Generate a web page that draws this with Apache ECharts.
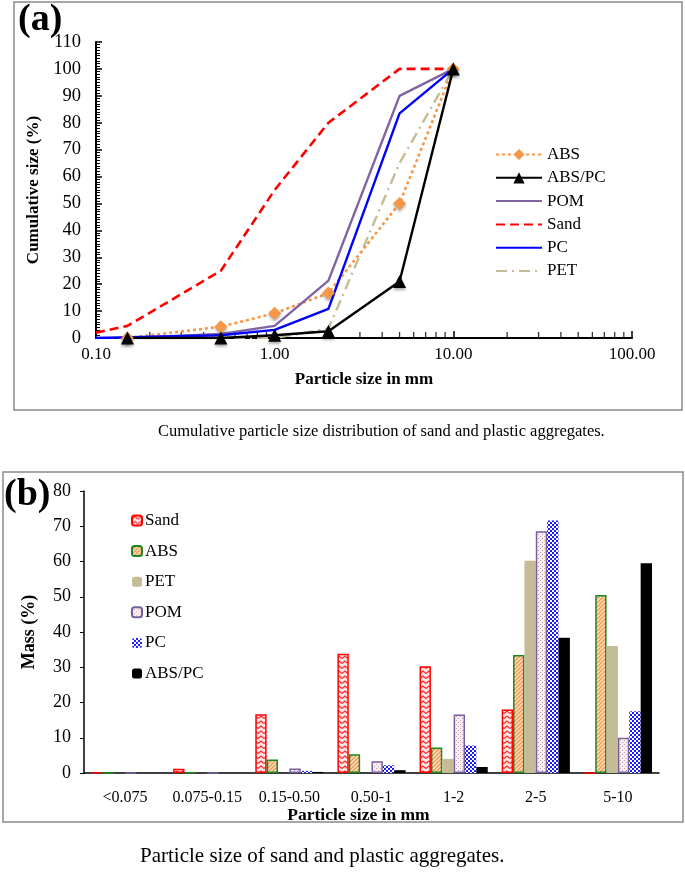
<!DOCTYPE html>
<html>
<head>
<meta charset="utf-8">
<script src="https://cdn.jsdelivr.net/npm/echarts@6/dist/echarts.min.js"></script>
<style>
html,body{margin:0;padding:0;background:#fff;}
#chart{width:685px;height:875px;}
</style>
</head>
<body>
<div id="chart"></div>
<script>
// ---------- Panel (a): cumulative distribution (x = particle size mm, y = %) ----------
const sandCum  = [[0.1,2],[0.15,4.5],[0.5,25],[1,55],[2,80],[5,100],[10,100]];
const absCum   = [[0.15,0],[0.5,4.2],[1,9.2],[2,16.7],[5,50],[10,100]];
const abspcCum = [[0.15,0],[0.5,0],[1,1],[2,2.5],[5,21],[10,100]];
const pomCum   = [[0.15,0],[0.5,1.5],[1,4.5],[2,21.3],[5,90],[10,100]];
const pcCum    = [[0.1,0],[0.5,1],[1,3],[2,10.8],[5,83.5],[10,100]];
const petCum   = [[0.1,0],[0.5,0],[1,0],[2,3.5],[5,65],[10,100]];
const minorTickValues = [0.2,0.3,0.4,0.5,0.6,0.7,0.8,0.9,2,3,4,5,6,7,8,9,20,30,40,50,60,70,80,90];

// ---------- Panel (b): mass % per size class ----------
const sizeClasses = ['<0.075','0.075-0.15','0.15-0.50','0.50-1','1-2','2-5','5-10'];
const sandMass  = [0.2, 1.2, 16.7, 33.8, 30.3, 18.0, 0];
const absMass   = [0, 0.2, 3.8, 5.3, 7.2, 33.5, 50.5];
const petMass   = [0, 0, 0, 0, 4.0, 60.2, 36.0];
const pomMass   = [0, 0, 1.3, 3.3, 16.6, 68.6, 10.0];
const pcMass    = [0, 0, 0.6, 2.2, 7.8, 71.6, 17.5];
const abspcMass = [0, 0, 0.3, 0.8, 1.7, 38.4, 59.5];

const SERIF = '"Liberation Serif","Times New Roman",serif';

function makePattern(w, h, draw) {
  const c = document.createElement('canvas');
  c.width = w; c.height = h;
  draw(c.getContext('2d'), w, h);
  return {image: c, repeat: 'repeat'};
}
const sandPat = makePattern(6, 5, (ctx, w, h) => {
  ctx.fillStyle = '#ffe6e6'; ctx.fillRect(0, 0, w, h);
  ctx.strokeStyle = '#ff2a2a'; ctx.lineWidth = 1.3;
  ctx.beginPath(); ctx.moveTo(0, 3.5); ctx.lineTo(3, 1); ctx.lineTo(6, 3.5); ctx.stroke();
});
const absPat = makePattern(4, 4, (ctx, w, h) => {
  ctx.fillStyle = '#fde3cf'; ctx.fillRect(0, 0, w, h);
  ctx.strokeStyle = '#f5944a'; ctx.lineWidth = 1.3;
  ctx.beginPath(); ctx.moveTo(-1, 5); ctx.lineTo(5, -1); ctx.stroke();
  ctx.beginPath(); ctx.moveTo(-1, 1); ctx.lineTo(1, -1); ctx.stroke();
  ctx.beginPath(); ctx.moveTo(3, 5); ctx.lineTo(5, 3); ctx.stroke();
});
const pomPat = makePattern(4, 4, (ctx, w, h) => {
  ctx.fillStyle = '#fbf2f2'; ctx.fillRect(0, 0, w, h);
  ctx.fillStyle = '#d99a9a'; ctx.fillRect(0, 0, 1, 1);
  ctx.fillStyle = '#b08cc0'; ctx.fillRect(2, 2, 1, 1);
});
const pcPat = makePattern(4, 4, (ctx, w, h) => {
  ctx.fillStyle = '#ffffff'; ctx.fillRect(0, 0, w, h);
  ctx.fillStyle = '#1a1aff'; ctx.fillRect(0, 0, 2, 2); ctx.fillRect(2, 2, 2, 2);
});

const markerShadow = {shadowBlur: 3, shadowColor: 'rgba(0,0,0,0.35)', shadowOffsetY: 2};
const noSymbol = {itemStyle: {opacity: 0}};

const chart = echarts.init(document.getElementById('chart'), null, {renderer: 'canvas'});
const option = {
  animation: false,
  backgroundColor: '#ffffff',
  textStyle: {fontFamily: SERIF, color: '#000'},
  graphic: [
    {type: 'rect', shape: {x: 14, y: 2, width: 668, height: 408}, style: {fill: 'none', stroke: '#8a8a8a', lineWidth: 1.5}, silent: true},
    {type: 'rect', shape: {x: 3, y: 472, width: 680, height: 350}, style: {fill: 'none', stroke: '#8a8a8a', lineWidth: 1.5}, silent: true},
    {type: 'text', left: 18, top: 1, style: {text: '(a)', font: 'bold 38px ' + SERIF, fill: '#000'}},
    {type: 'text', left: 4, top: 476, style: {text: '(b)', font: 'bold 38px ' + SERIF, fill: '#000'}},
    {type: 'text', left: 158, top: 423, style: {text: 'Cumulative particle size distribution of sand and plastic aggregates.', font: '16.5px ' + SERIF, fill: '#000'}},
    {type: 'text', left: 140, top: 846, style: {text: 'Particle size of sand and plastic aggregates.', font: '21px ' + SERIF, fill: '#000'}}
  ],
  legend: [
    {
      orient: 'vertical', left: 495, top: 146, padding: 0, itemWidth: 46, itemHeight: 14, itemGap: 6.3,
      textStyle: {fontFamily: SERIF, fontSize: 17, color: '#000', lineHeight: 17},
      data: [
        {name: 'ABS'}, {name: 'ABS/PC'},
        Object.assign({name: 'POM'}, noSymbol), Object.assign({name: 'Sand'}, noSymbol),
        Object.assign({name: 'PC'}, noSymbol), Object.assign({name: 'PET'}, noSymbol)
      ],
      selectedMode: false
    },
    {
      orient: 'vertical', left: 131, top: 512, padding: 0, itemWidth: 10, itemHeight: 10, itemGap: 13.6,
      textStyle: {fontFamily: SERIF, fontSize: 17, color: '#000', lineHeight: 17, padding: [0, 0, 0, -2]},
      data: ['Sand ', 'ABS ', 'PET ', 'POM ', 'PC ', 'ABS/PC '],
      formatter: n => n.trim(),
      selectedMode: false
    }
  ],
  grid: [
    {left: 96, top: 42, width: 536, height: 296},
    {left: 84, top: 491, width: 575, height: 282}
  ],
  xAxis: [
    {
      type: 'log', gridIndex: 0, logBase: 10, min: 0.1, max: 100,
      axisLine: {lineStyle: {color: '#000', width: 2}},
      axisTick: {inside: true, length: 7, lineStyle: {color: '#000', width: 1.5}},
      axisLabel: {fontFamily: SERIF, fontSize: 17, color: '#000', margin: 8, formatter: v => Number(v).toFixed(2)},
      splitLine: {show: false},
      name: 'Particle size in mm', nameLocation: 'middle', nameGap: 33,
      nameTextStyle: {fontFamily: SERIF, fontSize: 17, fontWeight: 'bold', color: '#000'}
    },
    {
      type: 'category', gridIndex: 1, data: sizeClasses,
      axisLine: {lineStyle: {color: '#000', width: 1.5}},
      axisTick: {show: false},
      axisLabel: {fontFamily: SERIF, fontSize: 16, color: '#000', margin: 17, interval: 0},
      name: 'Particle size in mm', nameLocation: 'middle', nameGap: 31,
      nameTextStyle: {fontFamily: SERIF, fontSize: 17.5, fontWeight: 'bold', color: '#000', padding: [0, 26, 0, 0]}
    }
  ],
  yAxis: [
    {
      type: 'value', gridIndex: 0, min: 0, max: 110, interval: 10,
      axisLine: {show: true, lineStyle: {color: '#000', width: 2}},
      axisTick: {show: true, inside: true, length: 6, lineStyle: {color: '#000', width: 1.5}},
      minorTick: {show: true, splitNumber: 10, length: 4, lineStyle: {color: '#000', width: 1}},
      axisLabel: {fontFamily: SERIF, fontSize: 18.5, color: '#000', margin: 15},
      splitLine: {show: false},
      name: 'Cumulative size (%)', nameLocation: 'middle', nameGap: 51,
      nameTextStyle: {fontFamily: SERIF, fontSize: 17, fontWeight: 'bold', color: '#000'}
    },
    {
      type: 'value', gridIndex: 1, min: 0, max: 80, interval: 10,
      axisLine: {show: true, lineStyle: {color: '#000', width: 1.5}},
      axisTick: {show: true, length: 4, lineStyle: {color: '#000'}},
      axisLabel: {fontFamily: SERIF, fontSize: 18, color: '#000', margin: 13},
      splitLine: {show: false},
      name: 'Mass (%)', nameLocation: 'middle', nameGap: 46,
      nameTextStyle: {fontFamily: SERIF, fontSize: 18, fontWeight: 'bold', color: '#000'}
    }
  ],
  series: [
    {name: 'Sand', type: 'line', xAxisIndex: 0, yAxisIndex: 0, data: sandCum, symbol: 'none',
     lineStyle: {color: '#ff0000', width: 2.6, type: [9, 5]}, itemStyle: {color: '#ff0000'}},
    {name: 'PET', type: 'line', xAxisIndex: 0, yAxisIndex: 0, data: petCum, symbol: 'none',
     lineStyle: {color: '#c4bd97', width: 2.4, type: [11, 5, 2, 5]}, itemStyle: {color: '#c4bd97'}},
    {name: 'ABS', type: 'line', xAxisIndex: 0, yAxisIndex: 0, data: absCum, symbol: 'diamond', symbolSize: 13,
     lineStyle: {color: '#f79646', width: 2.6, type: [3, 3]}, itemStyle: Object.assign({color: '#f79646'}, markerShadow)},
    {name: 'POM', type: 'line', xAxisIndex: 0, yAxisIndex: 0, data: pomCum, symbol: 'none',
     lineStyle: {color: '#8064a2', width: 2.4}, itemStyle: {color: '#8064a2'}},
    {name: 'PC', type: 'line', xAxisIndex: 0, yAxisIndex: 0, data: pcCum, symbol: 'none',
     lineStyle: {color: '#0000ff', width: 2.4}, itemStyle: {color: '#0000ff'}},
    {name: 'ABS/PC', type: 'line', xAxisIndex: 0, yAxisIndex: 0, data: abspcCum, symbol: 'triangle', symbolSize: 13,
     lineStyle: {color: '#000000', width: 2.4}, itemStyle: Object.assign({color: '#000000'}, markerShadow)},
    {name: 'minorTicks', type: 'scatter', xAxisIndex: 0, yAxisIndex: 0, silent: true,
     data: minorTickValues.map(v => [v, 0]), symbol: 'rect', symbolSize: [1.3, 6], symbolOffset: [0, -3],
     itemStyle: {color: '#000'}, z: 1},

    {name: 'Sand ', type: 'bar', xAxisIndex: 1, yAxisIndex: 1, data: sandMass, barGap: '0%', barCategoryGap: '17%',
     itemStyle: {color: sandPat, borderColor: '#ff0000', borderWidth: 1.5}},
    {name: 'ABS ', type: 'bar', xAxisIndex: 1, yAxisIndex: 1, data: absMass,
     itemStyle: {color: absPat, borderColor: '#1a8a1a', borderWidth: 1.5}},
    {name: 'PET ', type: 'bar', xAxisIndex: 1, yAxisIndex: 1, data: petMass,
     itemStyle: {color: '#c4bc96'}},
    {name: 'POM ', type: 'bar', xAxisIndex: 1, yAxisIndex: 1, data: pomMass,
     itemStyle: {color: pomPat, borderColor: '#74609c', borderWidth: 1.5}},
    {name: 'PC ', type: 'bar', xAxisIndex: 1, yAxisIndex: 1, data: pcMass,
     itemStyle: {color: pcPat}},
    {name: 'ABS/PC ', type: 'bar', xAxisIndex: 1, yAxisIndex: 1, data: abspcMass,
     itemStyle: {color: '#000000'}}
  ]
};
chart.setOption(option);
</script>
</body>
</html>
